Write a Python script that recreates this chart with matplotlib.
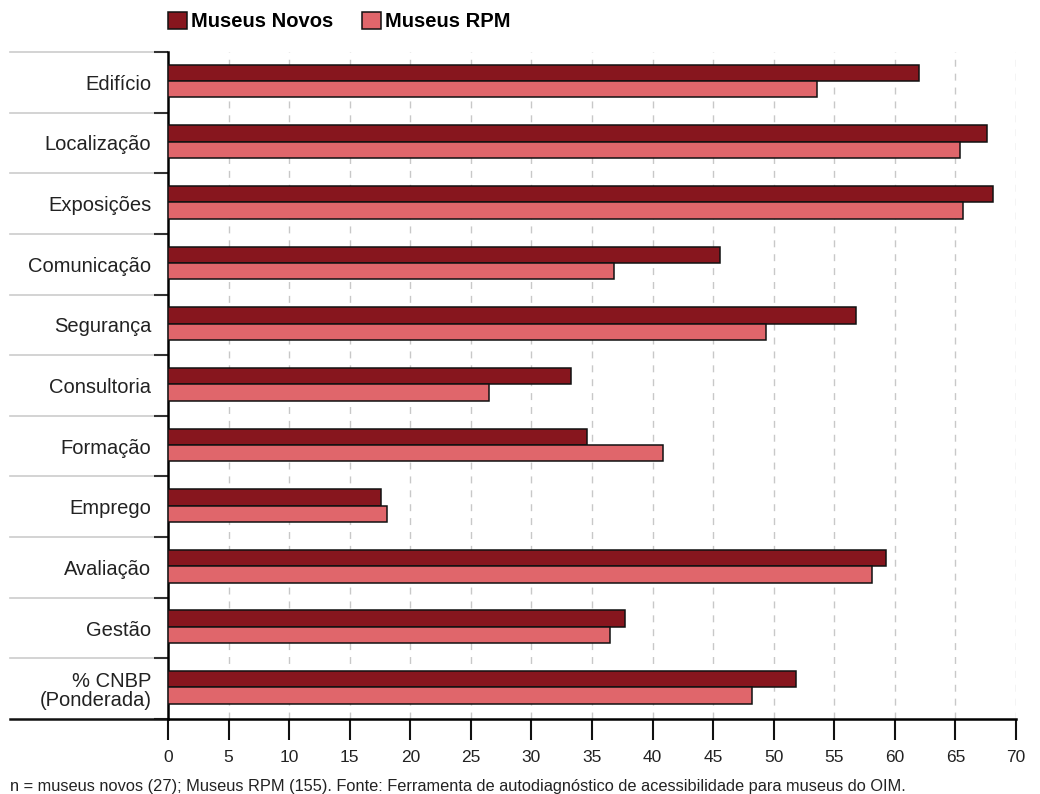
import numpy as np
import matplotlib.pyplot as plt
import matplotlib.transforms as mtransforms

plt.rcParams['font.family'] = ['Liberation Sans', 'DejaVu Sans']

categorias = ['Edifício', 'Localização', 'Exposições', 'Comunicação', 'Segurança',
              'Consultoria', 'Formação', 'Emprego', 'Avaliação', 'Gestão',
              '% CNBP\n(Ponderada)']
museus_novos = [62.0, 67.6, 68.1, 45.6, 56.8, 33.3, 34.6, 17.6, 59.3, 37.7, 51.8]
museus_rpm = [53.6, 65.4, 65.6, 36.8, 49.4, 26.5, 40.9, 18.1, 58.1, 36.5, 48.2]
xticks = list(range(0, 75, 5))
nota = ('n = museus novos (27); Museus RPM (155). Fonte: Ferramenta de autodiagnóstico '
        'de acessibilidade para museus do OIM.')

cor_novos = '#87161e'
cor_rpm = '#e0666b'

fig = plt.figure(figsize=(10.4, 7.94), dpi=100)
ax = fig.add_axes([168 / 1040, 1 - 719 / 794, 848 / 1040, 667 / 794])

y = np.arange(len(categorias))
h = 0.27
b1 = ax.barh(y - h / 2 - 0.02, museus_novos, height=h, color=cor_novos,
             edgecolor='#111111', linewidth=1.1, label='Museus Novos', zorder=3)
b2 = ax.barh(y + h / 2 - 0.02, museus_rpm, height=h, color=cor_rpm,
             edgecolor='#111111', linewidth=1.1, label='Museus RPM', zorder=3)

ax.set_xlim(0, 70)
ax.set_ylim(len(categorias) - 0.5, -0.5)
ax.set_xticks(xticks)
ax.set_xticklabels([str(t) for t in xticks], fontsize=12.5, color='#222222')
ax.set_yticks(y)
ax.set_yticklabels(categorias, fontsize=14.5, color='#222222', linespacing=1.0,
                   multialignment='right')
ax.tick_params(axis='y', length=0, pad=12)
ax.tick_params(axis='x', length=15, width=1.5, color='#111111', pad=7)
ax.set_yticks(np.arange(len(categorias) + 1) - 0.5, minor=True)
ax.tick_params(axis='y', which='minor', length=10, width=1.5, color='#333333')

for v in xticks[1:]:
    ax.axvline(v, color='#c8c8c8', lw=1, ls=(0, (5, 5)), zorder=1)

for s in ['top', 'right']:
    ax.spines[s].set_visible(False)
ax.spines['left'].set_linewidth(1.8)
ax.spines['bottom'].set_linewidth(1.8)

trans = mtransforms.blended_transform_factory(ax.transAxes, ax.transData)
x0 = (10 - 168) / 848
for b in np.arange(len(categorias)) - 0.5:
    ax.plot([x0, -0.012], [b, b], transform=trans, color='#cccccc', lw=1.2,
            clip_on=False, zorder=0)
ax.plot([x0, 0], [len(categorias) - 0.5] * 2, transform=trans, color='#111111',
        lw=1.8, clip_on=False)

fig.legend(handles=[b1, b2], loc='upper left', bbox_to_anchor=(150 / 1040, 1.008),
           ncol=2, frameon=False, handlelength=0.95, handleheight=0.95,
           handletextpad=0.2, columnspacing=1.4,
           prop={'weight': 'bold', 'size': 14.5})

fig.text(10 / 1040, 1 - 786 / 794, nota, fontsize=11.8, color='#222222', va='center')

fig.savefig('out.png', dpi=100)
